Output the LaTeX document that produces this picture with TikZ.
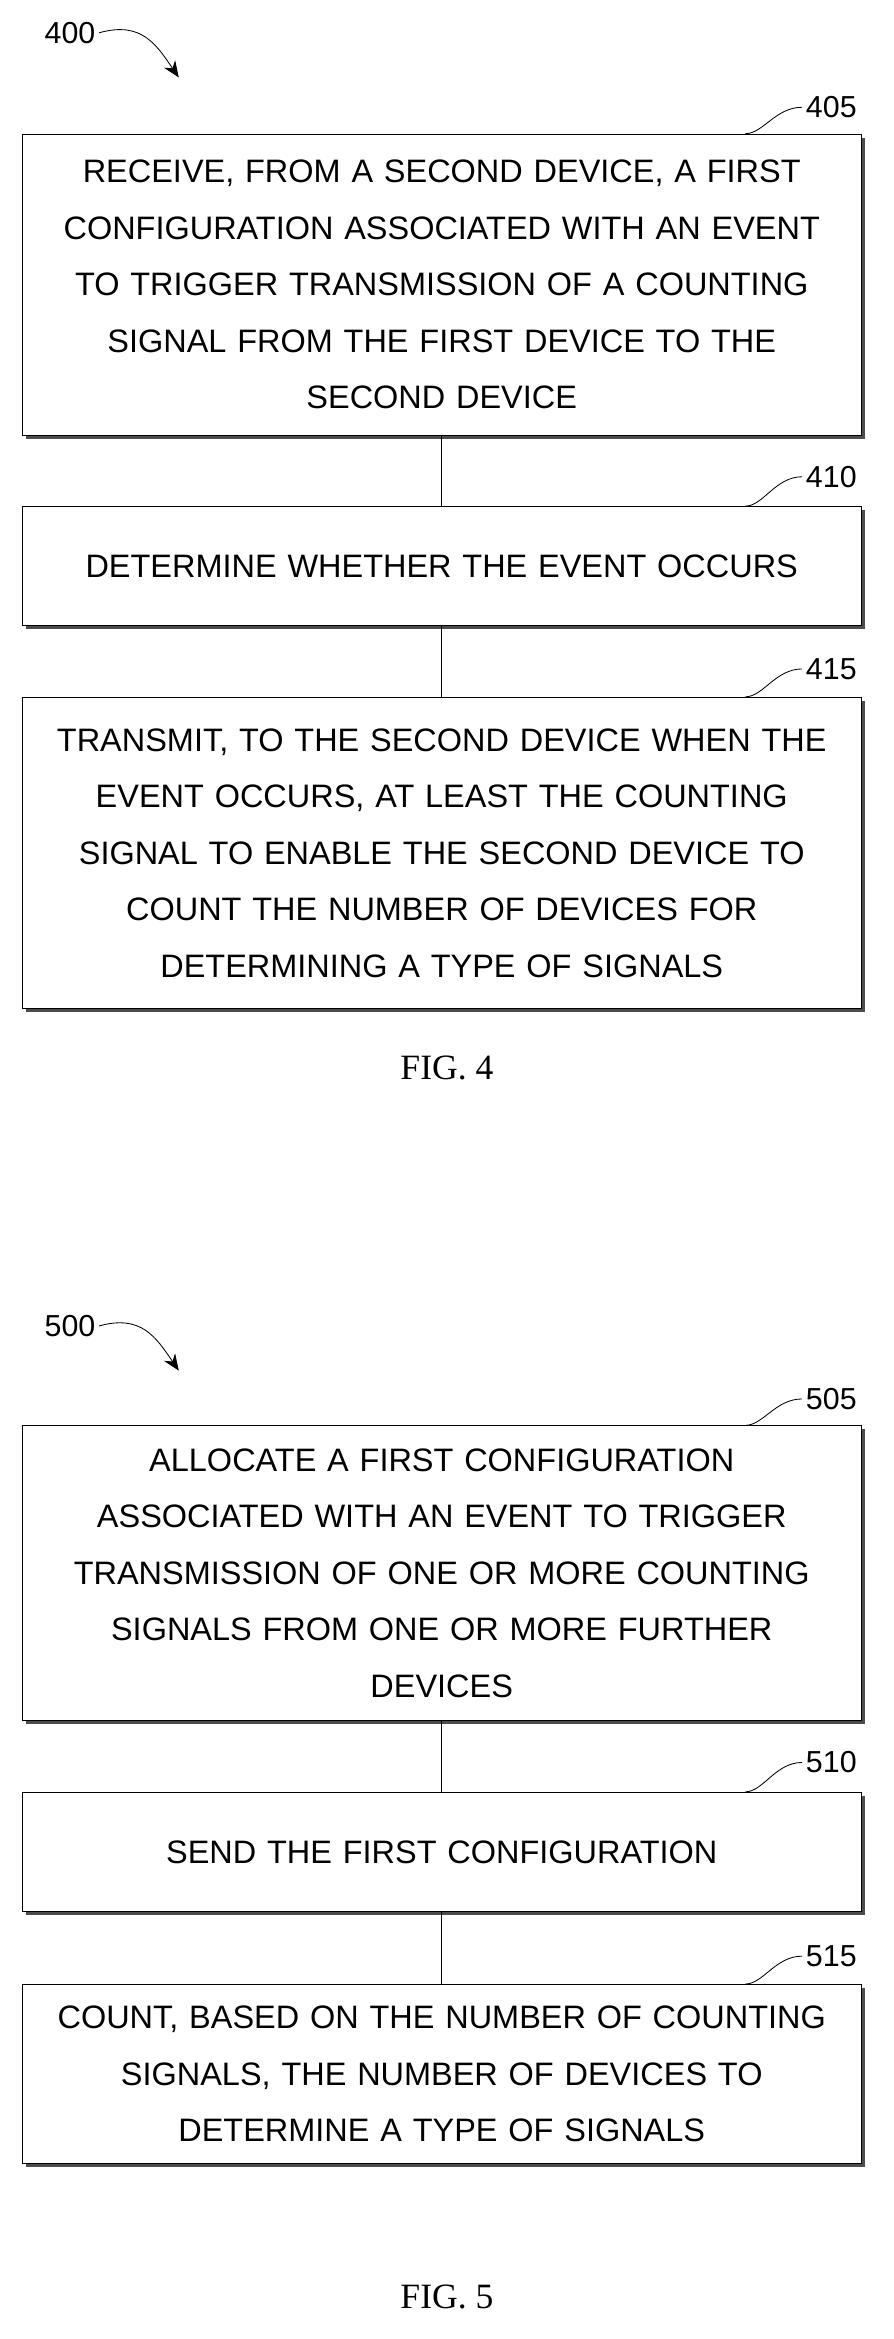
\documentclass[tikz,border=0pt]{standalone}
\usepackage{fontspec}
\setmainfont{Liberation Sans}
\newfontfamily\figfont{Liberation Serif}
\usetikzlibrary{positioning,shadows,arrows.meta}
\begin{document}
\begin{tikzpicture}[x=0.05cm,y=-0.05cm,semithick]
  \tikzset{flowbox/.style={draw,thick,fill=white,align=center,text width=27.5cm,
      font=\fontsize{31}{54}\selectfont,
      drop shadow={shadow xshift=0.12cm,shadow yshift=-0.12cm,fill=black,opacity=0.7}},
    reflabel/.style={font=\fontsize{29}{34}\selectfont},
    figlabel/.style={font=\figfont\fontsize{34}{40}\selectfont}}
  \useasboundingbox (0,0) rectangle (600,1570);
  % FIG. 4
  \node[reflabel] (n400) at (47,22) {400};
  \node[flowbox,minimum width=28.15cm,minimum height=10.1cm] (b405) at (296.5,191)
    {RECEIVE, FROM A SECOND DEVICE, A FIRST\\ CONFIGURATION ASSOCIATED WITH AN EVENT\\ TO TRIGGER TRANSMISSION OF A COUNTING\\ SIGNAL FROM THE FIRST DEVICE TO THE\\ SECOND DEVICE};
  \node[flowbox,minimum width=28.15cm,minimum height=4cm] (b410) at (296.5,380)
    {DETERMINE WHETHER THE EVENT OCCURS};
  \node[flowbox,minimum width=28.15cm,minimum height=10.45cm] (b415) at (296.5,572.5)
    {TRANSMIT, TO THE SECOND DEVICE WHEN THE\\ EVENT OCCURS, AT LEAST THE COUNTING\\ SIGNAL TO ENABLE THE SECOND DEVICE TO\\ COUNT THE NUMBER OF DEVICES FOR\\ DETERMINING A TYPE OF SIGNALS};
  \node[figlabel] (fig4) at (300,717) {FIG. 4};
  \node[reflabel] (n405) at (558,72) {405};
  \node[reflabel] (n410) at (558,320) {410};
  \node[reflabel] (n415) at (558,449) {415};
  % FIG. 5
  \node[reflabel] (n500) at (47,890) {500};
  \node[flowbox,minimum width=28.15cm,minimum height=9.9cm] (b505) at (296.5,1056)
    {ALLOCATE A FIRST CONFIGURATION\\ ASSOCIATED WITH AN EVENT TO TRIGGER\\ TRANSMISSION OF ONE OR MORE COUNTING\\ SIGNALS FROM ONE OR MORE FURTHER\\ DEVICES};
  \node[flowbox,minimum width=28.15cm,minimum height=4cm] (b510) at (296.5,1243)
    {SEND THE FIRST CONFIGURATION};
  \node[flowbox,minimum width=28.15cm,minimum height=6cm] (b515) at (296.5,1392)
    {COUNT, BASED ON THE NUMBER OF COUNTING\\ SIGNALS, THE NUMBER OF DEVICES TO\\ DETERMINE A TYPE OF SIGNALS};
  \node[figlabel] (fig5) at (300,1542) {FIG. 5};
  \node[reflabel] (n505) at (558,939) {505};
  \node[reflabel] (n510) at (558,1183) {510};
  \node[reflabel] (n515) at (558,1313) {515};
  % connectors
  \draw (b405) -- (b410);
  \draw (b410) -- (b415);
  \draw (b505) -- (b510);
  \draw (b510) -- (b515);
  \draw[-{Stealth[length=0.55cm,width=0.45cm]},thick] (n400.east) .. controls (95,14) and (105,30) .. (120,52);
  \draw[-{Stealth[length=0.55cm,width=0.45cm]},thick] (n500.east) .. controls (95,882) and (105,898) .. (120,920);
  \foreach \b in {405,410,415,505,510,515}
    \draw[thick] ([xshift=-3.9cm]b\b.north east) .. controls +(0.6cm,0cm) and +(-0.9cm,0cm) .. (n\b.west);
\end{tikzpicture}
\end{document}
